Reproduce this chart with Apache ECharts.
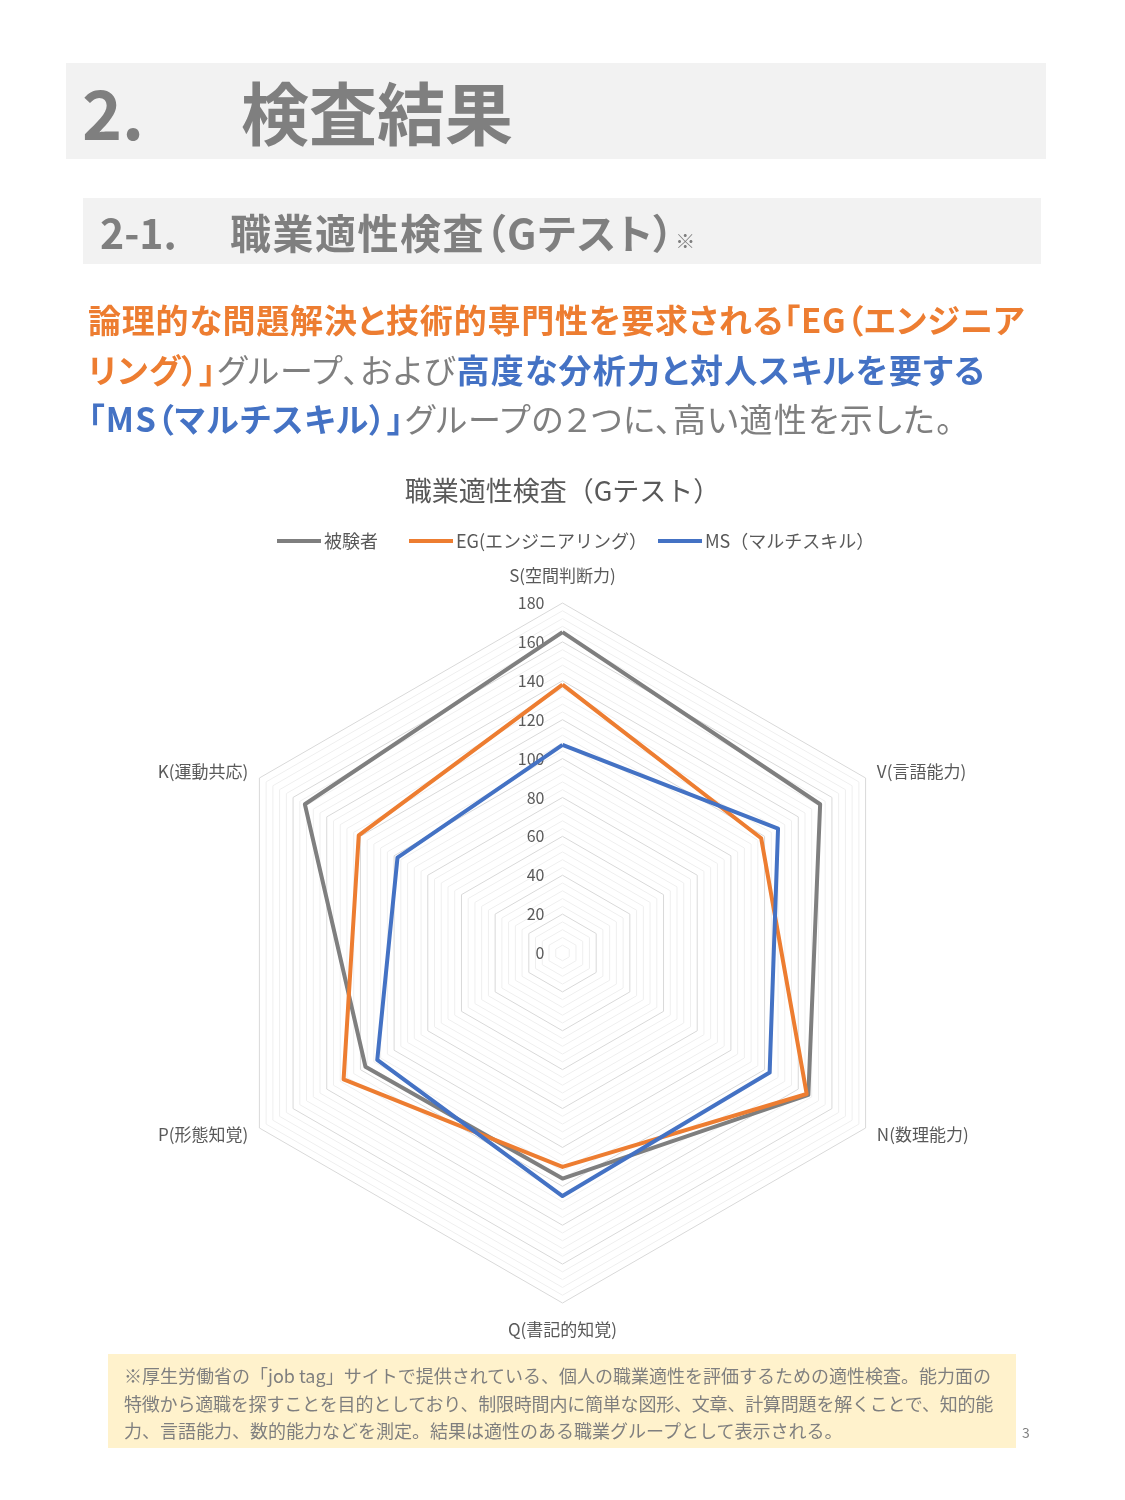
<!DOCTYPE html>
<html><head><meta charset="utf-8">
<script src="https://cdn.jsdelivr.net/npm/echarts@6/dist/echarts.min.js"></script>
<style>
html,body{margin:0;padding:0;background:#fff;}
body{width:1125px;height:1500px;position:relative;overflow:hidden;font-family:"Noto Sans CJK JP","Noto Sans",sans-serif;}
#chart{position:absolute;left:0;top:0;width:1125px;height:1500px;}
.abs{position:absolute;white-space:nowrap;}
.box1{left:66px;top:63px;width:980px;height:96px;background:#f2f2f2;}
.box2{left:83px;top:198px;width:958px;height:66px;background:#f2f2f2;}
.h1{color:#7f7f7f;font-size:68px;font-weight:bold;line-height:96px;top:63px;}
.h2{color:#7f7f7f;font-size:41px;font-weight:bold;line-height:66px;top:198px;font-feature-settings:"palt";}
.body{left:88px;font-size:33px;line-height:50px;color:#7f7f7f;font-feature-settings:"palt";}
.o{color:#ED7D31;font-weight:bold;}
.b{color:#4472C4;font-weight:bold;}
.note{left:108px;top:1354px;width:908px;height:94px;background:#fff2cc;}
.notetxt{left:124px;font-size:18px;line-height:27.5px;color:#7f7f7f;}
</style></head>
<body>
<div class="abs box1"></div>
<div class="abs box2"></div>
<div class="abs note"></div>
<div id="chart"></div>
<div class="abs h1" style="left:82px;">2.</div>
<div class="abs h1" style="left:241px;">検査結果</div>
<div class="abs h2" style="left:100px;">2-1.</div>
<div class="abs h2" style="left:230px;letter-spacing:1.5px;">職業適性検査（Gテスト）<span style="font-size:20px;font-weight:normal;letter-spacing:0;">※</span></div>
<div class="abs body" style="top:294px;letter-spacing:0.8px;"><span class="o">論理的な問題解決と技術的専門性を要求される「EG（エンジニア</span></div>
<div class="abs body" style="top:344px;letter-spacing:1.25px;"><span class="o">リング）」</span>グループ、および<span class="b">高度な分析力と対人スキルを要する</span></div>
<div class="abs body" style="top:393px;letter-spacing:1.25px;"><span class="b">「MS（マルチスキル）」</span>グループの２つに、高い適性を示した。</div>
<div class="abs notetxt" style="top:1362px;">※厚生労働省の「job tag」サイトで提供されている、個人の職業適性を評価するための適性検査。能力面の</div>
<div class="abs notetxt" style="top:1389.5px;letter-spacing:-0.2px;">特徴から適職を探すことを目的としており、制限時間内に簡単な図形、文章、計算問題を解くことで、知的能</div>
<div class="abs notetxt" style="top:1417px;">力、言語能力、数的能力などを測定。結果は適性のある職業グループとして表示される。</div>
<div class="abs" style="left:1022px;top:1422px;font-size:14px;color:#7f7f7f;">3</div>
<script>
// Categories in ECharts radar order (counter-clockwise from top)
const categories = ['S(空間判断力)', 'K(運動共応)', 'P(形態知覚)', 'Q(書記的知覚)', 'N(数理能力)', 'V(言語能力)'];
const seriesNames = ['被験者', 'EG(エンジニアリング）', 'MS（マルチスキル）'];
const subjectValues = [165, 153, 117, 116, 146, 153];
const egValues = [138, 121, 130, 110, 145, 118];
const msValues = [107, 98, 110, 125, 123, 128];
const axisMax = 180;
const tickStep = 20;

const colors = ['#7F7F7F', '#ED7D31', '#4472C4'];
const center = [562.5, 953];
const radius = 350;
const legendLefts = [277, 409, 658];

const chart = echarts.init(document.getElementById('chart'), null, {renderer: 'canvas'});
const minorColors = ['#d9d9d9', '#efefef', '#efefef', '#efefef', '#efefef'];
chart.setOption({
  animation: false,
  title: {
    text: '職業適性検査（Gテスト）',
    left: 'center', top: 472,
    textStyle: {fontSize: 27, fontWeight: 'normal', color: '#595959', fontFamily: 'Noto Sans CJK JP'}
  },
  legend: seriesNames.map((n, i) => ({
    top: 532, left: legendLefts[i], padding: 0,
    itemWidth: 44, itemHeight: 4,
    icon: 'rect',
    textStyle: {fontSize: 18, color: '#595959', fontFamily: 'Noto Sans CJK JP', padding: [0, 0, 0, -2]},
    data: [n]
  })),
  radar: {
    center: center, radius: radius, shape: 'polygon', startAngle: 90,
    splitNumber: 45,
    indicator: categories.map(c => ({name: c, min: 0, max: axisMax})),
    axisName: {color: '#595959', fontSize: 17, fontFamily: 'Noto Sans CJK JP', padding: [5, 0, 6, 0]},
    nameGap: 13,
    axisLine: {show: false},
    axisTick: {show: false},
    axisLabel: {show: false},
    splitArea: {show: false},
    splitLine: {lineStyle: {color: minorColors, width: 1}}
  },
  polar: {center: center, radius: radius},
  angleAxis: {type: 'value', startAngle: 90, min: 0, max: 360, show: false},
  radiusAxis: {
    type: 'value', min: 0, max: axisMax, interval: tickStep,
    axisLine: {show: false}, axisTick: {show: false}, splitLine: {show: false},
    axisLabel: {color: '#595959', fontSize: 16, margin: 18, fontFamily: 'Noto Sans CJK JP'}
  },
  series: [{
    type: 'radar',
    symbol: 'none',
    data: [
      {name: seriesNames[0], value: subjectValues, lineStyle: {color: colors[0], width: 4}, itemStyle: {color: colors[0]}},
      {name: seriesNames[1], value: egValues, lineStyle: {color: colors[1], width: 4}, itemStyle: {color: colors[1]}},
      {name: seriesNames[2], value: msValues, lineStyle: {color: colors[2], width: 4}, itemStyle: {color: colors[2]}}
    ]
  }]
});
</script>
</body></html>
